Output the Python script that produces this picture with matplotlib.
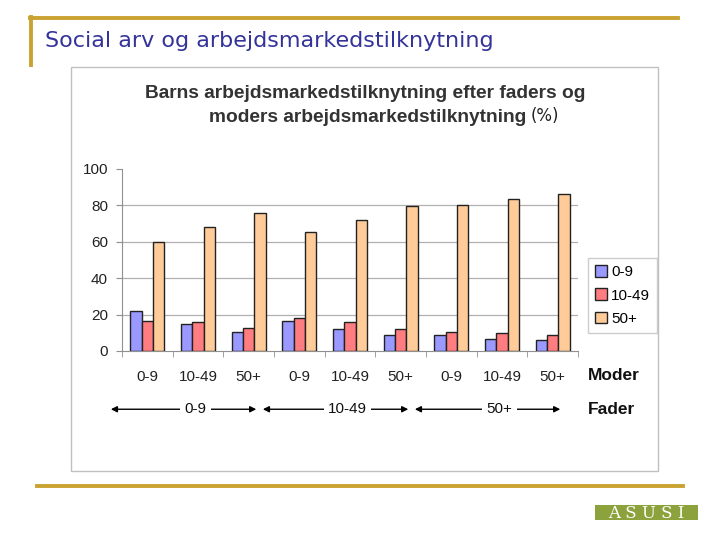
"""
Slide: Social arv og arbejdsmarkedstilknytning - child labour-market
attachment by father's and mother's attachment (%).
"""
import matplotlib
matplotlib.use("Agg")
import matplotlib.pyplot as plt
import numpy as np
from matplotlib.patches import Rectangle, Patch
from matplotlib.lines import Line2D

plt.rcParams["font.family"] = ["Liberation Sans", "DejaVu Sans"]

# categories: mother's attachment (inner) within father's attachment (outer)
moder_labels = ["0-9", "10-49", "50+"] * 3
fader_labels = ["0-9", "10-49", "50+"]
series_labels = ["0-9", "10-49", "50+"]

# child's attachment share (%)
barn_0_9 = [22, 15, 10.6, 16.7, 12, 8.8, 8.8, 6.8, 6.1]
barn_10_49 = [16.7, 16, 12.7, 18, 16, 12.1, 10.6, 10.1, 8.8]
barn_50p = [60, 68, 76, 65.3, 72, 79.4, 80, 83.3, 86.2]

colors = ["#9999FF", "#FF7C80", "#FFCC99"]
GOLD = "#C9A232"

fig = plt.figure(figsize=(7.2, 5.4), dpi=100)

# background layer in pixel coordinates for slide decorations
bg = fig.add_axes([0, 0, 1, 1])
bg.set_xlim(0, 720)
bg.set_ylim(540, 0)
bg.axis("off")

bg.add_line(Line2D([30, 678], [18, 18], color=GOLD, lw=2.8))
bg.add_line(Line2D([31, 31], [17, 65], color=GOLD, lw=2.8))
bg.add_line(Line2D([37, 683], [486, 486], color=GOLD, lw=2.8))
bg.text(45, 41, "Social arv og arbejdsmarkedstilknytning", fontsize=16,
        color="#333399", family="DejaVu Sans", va="center", ha="left")

# chart frame
bg.add_patch(Rectangle((71, 67), 587, 404, facecolor="white",
                       edgecolor="#C0C0C0", lw=1))
bg.text(365, 93, "Barns arbejdsmarkedstilknytning efter faders og",
        fontsize=13.8, fontweight="bold", color="#333333", ha="center", va="center")
bg.text(526, 118, "moders arbejdsmarkedstilknytning",
        fontsize=13.8, fontweight="bold", color="#333333", ha="right", va="center")
bg.text(531, 116, "(%)", fontsize=12, color="#222222", ha="left", va="center",
        family="DejaVu Sans")

# logo
bg.add_patch(Rectangle((595, 505), 103, 15, facecolor="#8CA23C", edgecolor="none"))
bg.text(646, 513, "A S U S I", fontsize=12, color="white", family="DejaVu Serif",
        ha="center", va="center")

# chart
ax = fig.add_axes([122 / 720, 1 - 351 / 540, 456 / 720, 182 / 540])
ax.set_facecolor("none")
x = np.arange(len(moder_labels))
w = 0.225
for k, (vals, lab) in enumerate(zip([barn_0_9, barn_10_49, barn_50p], series_labels)):
    ax.bar(x + (k - 1) * w, vals, width=w, color=colors[k], edgecolor="#222222",
           linewidth=1, label=lab, zorder=3)

ax.set_xlim(-0.5, len(moder_labels) - 0.5)
ax.set_ylim(0, 100)
ax.set_yticks([0, 20, 40, 60, 80, 100])
for yv in [20, 40, 60, 80]:
    ax.axhline(yv, color="#B0B0B0", lw=0.9, zorder=1)
ax.set_xticks(x)
ax.set_xticklabels(moder_labels)
ax.set_xticks(np.arange(-0.5, len(moder_labels), 1.0), minor=True)
ax.tick_params(axis="x", which="major", length=0, pad=14, labelsize=11, labelcolor="#222222")
ax.tick_params(axis="x", which="minor", length=4, color="#909090", direction="out")
ax.tick_params(axis="y", length=4, color="#909090", labelsize=11, pad=6, labelcolor="#222222")
for s in ["top", "right"]:
    ax.spines[s].set_visible(False)
for s in ["left", "bottom"]:
    ax.spines[s].set_color("#909090")

trans = ax.get_xaxis_transform()
ax.text(8.7, -0.137, "Moder", transform=trans, fontsize=12.5, fontweight="bold",
        ha="left", va="center", color="#111111")
ax.text(8.7, -0.32, "Fader", transform=trans, fontsize=12.5, fontweight="bold",
        ha="left", va="center", color="#111111")
for i, lab in enumerate(fader_labels):
    left, right, mid = 3 * i - 0.72, 3 * i + 2.15, 3 * i + 0.95
    ax.annotate("", xy=(left, -0.32), xytext=(right, -0.32), xycoords=trans,
                textcoords=trans, annotation_clip=False,
                arrowprops=dict(arrowstyle="<|-|>", color="black", lw=1,
                                mutation_scale=9, shrinkA=0, shrinkB=0))
    ax.text(mid, -0.32, lab, transform=trans, fontsize=11, ha="center", va="center",
            color="#111111", bbox=dict(facecolor="white", edgecolor="none", pad=3))

handles = [Patch(facecolor=c, edgecolor="#222222", label=l)
           for c, l in zip(colors, series_labels)]
fig.legend(handles=handles, loc="center", bbox_to_anchor=(622.5 / 720, 1 - 295.5 / 540),
           fontsize=11, frameon=True, fancybox=False, edgecolor="#C0C0C0",
           handlelength=0.8, handleheight=0.8, handletextpad=0.25, labelspacing=0.6,
           borderpad=0.45, borderaxespad=0)

fig.savefig("out.png", dpi=100)
